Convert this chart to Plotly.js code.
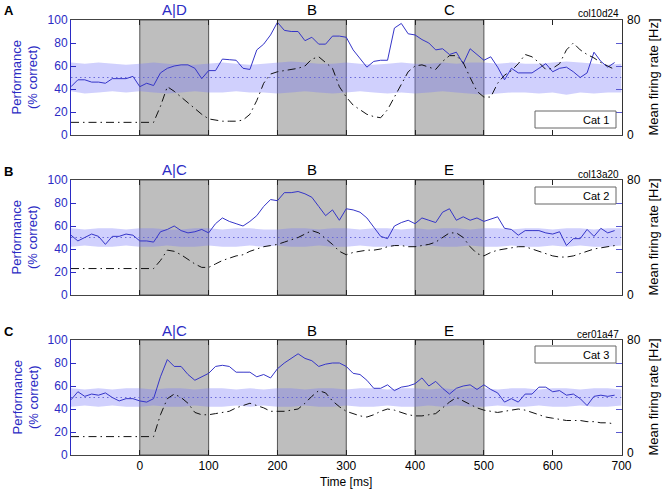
<!DOCTYPE html>
<html>
<head>
<meta charset="utf-8">
<script src="https://cdn.plot.ly/plotly-3.0.1.min.js"></script>
<style>html,body{margin:0;padding:0;background:#fff;}#chart{width:662px;height:492px;}</style>
</head>
<body>
<div id="chart"></div>
<script>
// ---------------- DATA ----------------
const panelLetters = ['A', 'B', 'C'];
const neuronIds = ['col10d24', 'col13a20', 'cer01a47'];
const catLabels = ['Cat 1', 'Cat 2', 'Cat 3'];
const stimLabelsA = ['A|D', 'B', 'C'];
const stimLabelsB = ['A|C', 'B', 'E'];
const stimLabelsC = ['A|C', 'B', 'E'];
const stimCenters = [50, 250, 450];
const windowStarts = [0, 200, 400];
const windowEnds = [100, 300, 500];
const xTickVals = [0, 100, 200, 300, 400, 500, 600, 700];
const perfTickVals = [0, 20, 40, 60, 80, 100];
const rateTickVals = [0, 16, 32, 48, 64, 80];
const rateLabelVals = [0, 80];
const chanceLevel = 50;

const timeMs = [-100,-90,-80,-70,-60,-50,-40,-30,-20,-10,
  0,10,20,30,40,50,60,70,80,90,
  100,110,120,130,140,150,160,170,180,190,
  200,210,220,230,240,250,260,270,280,290,
  300,310,320,330,340,350,360,370,380,390,
  400,410,420,430,440,450,460,470,480,490,
  500,510,520,530,540,550,560,570,580,590,
  600,610,620,630,640,650,660,670,680,690];

// performance (% correct)
const perfA = [42,48,48,46,46,45,49,49,49,51,
  42,45,43,54,58,60,61,61,58,49,
  56,56,66,65.5,65,58,57,74,79,87,
  98,91,90,90,82,85,79,79,86,86,
  85,74,66,59,64,65,65,93,97,88,
  87,83,80,74,75,70,72,62,75,70,
  65,68,59,48,58,54,54,54,58,62,
  55,58,59,55,50,54,72,64,59,63];
const perfB = [52,47,50,53,51,44,51,51,53,52,
  47,47,46,55,57,60,56,54,55,57,
  54,62,67,64,62,60,64,69,77,83,
  82,89,89,90,88,85,77,69,74,65,
  75,74,72,67,59,51,49,60,63,65,
  62,67,65,63,72,75,65,68,65,67,
  64,66,68,58,57,52,56,56,56,54,
  53,55,43,49,49,57,51,58,54,56];
const perfC = [48,55,51,53,52,54,50,47,49,49,
  47,46,49,68,83,77,77,70,65,68,
  71,77,78,77,72,72,72,68,70,67,
  75,80,84,88,84,82,77,79,80,80,
  77,71,70,65,58,58,61,56,59,60,
  62,67,60,64,58,53,58,60,61,57,
  61,57,54,46,49,46,53,53,59,59,
  55,56,52,53,49,43,51,52,51,52];

// mean firing rate (Hz)
const rateA = [8.8,8.8,8.8,8.8,8.8,8.8,8.8,8.8,8.8,8.8,
  8.8,8.8,8.8,20,33.6,30.4,26.4,22.4,18.4,14.4,
  11.2,10.4,9.6,9.6,9.6,10.4,14.4,24,36,42.4,
  44,44.8,45.6,46.4,48,52.8,54.4,50.4,46.4,33.6,
  26.4,20.8,17.6,14.4,12.8,12,17.6,26.4,36,44,
  48,48.8,47.2,45.6,51.2,55.2,55.2,50.4,40,30.4,
  26.4,26.4,36,41.6,44.8,49.6,56,54.4,50.4,45.6,
  46.4,49.6,59.2,64,59.2,56,53.6,50.4,48,45.6];
const rateB = [18.4,18.4,18.4,18.4,18.4,18.4,18.4,18.4,18.4,18.4,
  18.4,18.4,18.4,24,31.2,30.4,28,24.8,21.6,19.2,
  19.2,21.6,24,25.6,27.2,28,30.4,32,33.6,34.4,
  35.2,36.8,38.4,40,42.4,44.8,43.2,39.2,35.2,30.4,
  28,29.6,30.4,31.2,31.2,32,33.6,34.4,34.4,33.6,
  33.6,34.4,35.2,36.8,40,43.2,43.2,40,33.6,28.8,
  27.2,29.6,31.2,32,32.8,33.6,33.6,32,30.4,28.8,
  27.2,26.4,26.4,27.2,28.8,30.4,32,32.8,33.6,34.4];
const rateC = [12.8,12.8,12.8,12.8,12.8,12.8,12.8,12.8,12.8,12.8,
  12.8,12.8,12.8,28,39.2,42.4,40,36,29.6,28,
  28,28.8,29.6,30.4,32.8,34.4,36,34.4,32.8,30.4,
  30.4,30.4,31.2,32,36,40.8,44.8,43.2,37.6,33.6,
  30.4,28.8,27.2,26.4,28,30.4,32,31.2,29.6,28,
  27.2,27.2,28,28.8,32.8,36.8,40,37.6,35.2,32.8,
  31.2,30.4,29.6,30.4,31.2,32,31.2,29.6,28,26.4,
  25.6,24.8,24,24,24,23.2,23.2,22.4,22.4,21.6];

// chance-level band (% correct)
const bandTime = [-100,-80,-60,-40,-20,0,20,40,60,80,
  100,120,140,160,180,200,220,240,260,280,
  300,320,340,360,380,400,420,440,460,480,
  500,520,540,560,580,600,620,640,660,680,700];
const bandUpA = [63,62,63,62,61,62,63,62,61,61,62,63,62,61,62,63,64,63,62,62,63,62,61,62,63,62,62,63,62,63,63,62,63,62,62,63,64,63,62,61,62];
const bandLoA = [38,36,37,38,37,38,37,36,37,38,37,37,38,37,37,36,37,38,37,36,37,38,37,36,37,36,37,38,37,36,35,36,37,37,36,37,35,37,36,37,37];
const bandUpB = [58,57,58,58,57,58,58,57,57,58,58,57,58,58,57,57,58,58,57,58,58,57,58,58,57,58,57,58,58,57,58,58,57,58,58,57,58,58,57,58,58];
const bandLoB = [42,43,42,42,43,42,42,43,42,42,43,42,42,43,42,43,42,42,43,42,42,43,42,42,43,42,43,42,42,43,42,42,43,42,42,43,42,43,42,42,43];
const bandUpC = [58,57,58,57,58,58,57,58,58,57,58,58,57,58,57,58,58,57,58,58,57,58,58,57,58,58,57,58,57,58,58,57,58,58,57,58,58,57,58,58,57];
const bandLoC = [42,43,42,43,42,42,43,42,42,43,42,42,43,42,43,42,42,43,42,42,43,42,42,43,42,42,43,42,43,42,42,43,42,42,43,42,42,43,42,42,43];

// ---------------- LAYOUT ----------------
const W = 662, H = 492;
const px2x = p => p / W;
const px2y = p => 1 - p / H;
const plotLeft = 71, plotRight = 621.5;
const panelTops = [20, 180, 340];
const panelH = 115;

const BLUE = '#2b2bc4';
const LINEBLUE = '#3535c8';
const FONT = 'Liberation Sans, Arial, Helvetica, sans-serif';

const panels = [
  {perf: perfA, rate: rateA, up: bandUpA, lo: bandLoA, stim: stimLabelsA},
  {perf: perfB, rate: rateB, up: bandUpB, lo: bandLoB, stim: stimLabelsB},
  {perf: perfC, rate: rateC, up: bandUpC, lo: bandLoC, stim: stimLabelsC}
];

const traces = [];
const layout = {
  width: W, height: H,
  margin: {l: 0, r: 0, t: 0, b: 0},
  paper_bgcolor: '#fff', plot_bgcolor: '#fff',
  showlegend: false,
  font: {family: FONT, size: 12, color: '#000'},
  shapes: [], annotations: []
};

panels.forEach((p, i) => {
  const xa = i === 0 ? 'x' : 'x' + (i + 1);
  const yl = 'y' + (i === 0 ? '' : (2 * i + 1));
  const yr = 'y' + (2 * i + 2);
  const xKey = i === 0 ? 'xaxis' : 'xaxis' + (i + 1);
  const ylKey = i === 0 ? 'yaxis' : 'yaxis' + (2 * i + 1);
  const yrKey = 'yaxis' + (2 * i + 2);
  const top = panelTops[i], bot = panelTops[i] + panelH;
  const dom = [px2y(bot), px2y(top)];

  layout[xKey] = {
    domain: [px2x(plotLeft), px2x(plotRight)], range: [-100, 700], anchor: yl,
    tickvals: xTickVals, ticks: 'inside', ticklen: 5, tickcolor: '#222',
    showline: true, linecolor: '#444', linewidth: 1, mirror: 'ticks',
    showgrid: false, zeroline: false, showticklabels: i === 2,
    tickfont: {size: 12, color: '#000', family: FONT}
  };
  layout[ylKey] = {
    domain: dom, range: [0, 100], anchor: xa,
    tickvals: perfTickVals, ticks: 'inside', ticklen: 5, tickcolor: BLUE,
    showline: true, linecolor: BLUE, linewidth: 1,
    showgrid: false, zeroline: false,
    tickfont: {size: 12, color: BLUE, family: FONT}
  };
  layout[yrKey] = {
    domain: dom, range: [0, 80], anchor: xa, overlaying: yl, side: 'right',
    tickvals: rateTickVals, ticks: 'inside', ticklen: 6, tickcolor: '#5a5ad0',
    showticklabels: false,
    showline: true, linecolor: '#333', linewidth: 1, showgrid: false, zeroline: false
  };

  // right axis labels (0 and 80), placed as text to keep clear of the x tick labels
  rateLabelVals.forEach(v => {
    let yy = v === 0 ? bot : top;
    if (v === 0 && i === 2) yy = bot - 2;
    layout.annotations.push({xref: 'paper', yref: 'paper', x: px2x(625), y: px2y(yy),
      text: String(v), showarrow: false, xanchor: 'left', yanchor: 'middle',
      font: {size: 12, color: '#000', family: FONT}});
  });

  // gray stimulus windows
  windowStarts.forEach((s, k) => {
    layout.shapes.push({type: 'rect', xref: xa, yref: yl, x0: s, x1: windowEnds[k], y0: 0, y1: 100,
      fillcolor: '#bebebe', line: {color: '#555', width: 1}, layer: 'below'});
  });

  // chance band
  traces.push({x: bandTime, y: p.lo, xaxis: xa, yaxis: yl, type: 'scatter', mode: 'lines',
    line: {width: 0, color: 'rgba(0,0,0,0)'}, hoverinfo: 'skip'});
  traces.push({x: bandTime, y: p.up, xaxis: xa, yaxis: yl, type: 'scatter', mode: 'lines',
    fill: 'tonexty', fillcolor: 'rgba(120,120,250,0.35)',
    line: {width: 0, color: 'rgba(0,0,0,0)'}, hoverinfo: 'skip'});
  // chance level dotted line
  traces.push({x: [-100, 700], y: [chanceLevel, chanceLevel], xaxis: xa, yaxis: yl, type: 'scatter', mode: 'lines',
    line: {width: 1, color: '#6a6ad8', dash: '1.5px,3px'}});
  // firing rate
  traces.push({x: timeMs, y: p.rate, xaxis: xa, yaxis: yr, type: 'scatter', mode: 'lines',
    line: {width: 1, color: '#111', dash: '8px,4px,1.5px,4px'}});
  // performance
  traces.push({x: timeMs, y: p.perf, xaxis: xa, yaxis: yl, type: 'scatter', mode: 'lines',
    line: {width: 1, color: LINEBLUE}});

  // stimulus labels above plot
  p.stim.forEach((lab, k) => {
    layout.annotations.push({xref: xa, yref: 'paper', x: stimCenters[k], y: px2y(top - 10),
      text: lab, showarrow: false, xanchor: 'center', yanchor: 'middle',
      font: {size: 15, color: k === 0 ? BLUE : '#000', family: FONT}});
  });
  // panel letter
  layout.annotations.push({xref: 'paper', yref: 'paper', x: px2x(2), y: px2y(top - 9),
    text: '<b>' + panelLetters[i] + '</b>', showarrow: false, xanchor: 'left', yanchor: 'middle',
    font: {size: 13, color: '#000', family: FONT}});
  // neuron id
  layout.annotations.push({xref: 'paper', yref: 'paper', x: px2x(621), y: px2y(top - 6),
    text: neuronIds[i], showarrow: false, xanchor: 'right', yanchor: 'middle',
    font: {size: 10, color: '#000', family: FONT}});
  // left y title
  layout.annotations.push({xref: 'paper', yref: 'paper', x: px2x(25), y: px2y(top + panelH / 2),
    text: 'Performance<br>(% correct)', showarrow: false, textangle: -90,
    xanchor: 'center', yanchor: 'middle',
    font: {size: 13, color: BLUE, family: FONT}});
  // right y title
  layout.annotations.push({xref: 'paper', yref: 'paper', x: px2x(653), y: px2y(top + panelH / 2),
    text: 'Mean firing rate [Hz]', showarrow: false, textangle: -90,
    xanchor: 'center', yanchor: 'middle',
    font: {size: 13, color: '#000', family: FONT}});
  // category box
  const boxTop = [111, 187, 346][i];
  layout.shapes.push({type: 'rect', xref: 'paper', yref: 'paper',
    x0: px2x(535), x1: px2x(616), y0: px2y(boxTop + 17), y1: px2y(boxTop),
    fillcolor: '#fff', line: {color: '#666', width: 1}, layer: 'above'});
  layout.annotations.push({xref: 'paper', yref: 'paper', x: px2x(611), y: px2y(boxTop + 8.5),
    text: catLabels[i], showarrow: false, xanchor: 'right', yanchor: 'middle',
    font: {size: 11, color: '#000', family: FONT}});
});

// x axis title
layout.annotations.push({xref: 'paper', yref: 'paper', x: px2x(346), y: px2y(482),
  text: 'Time [ms]', showarrow: false, xanchor: 'center', yanchor: 'middle',
  font: {size: 12, color: '#000', family: FONT}});

Plotly.newPlot('chart', traces, layout, {displayModeBar: false, staticPlot: true});
</script>
</body>
</html>
